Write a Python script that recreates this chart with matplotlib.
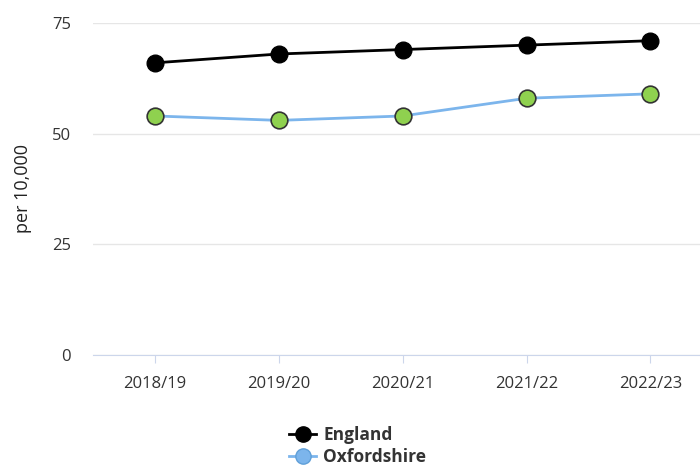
import matplotlib
matplotlib.use('Agg')
import matplotlib.pyplot as plt
from matplotlib.lines import Line2D

years = ['2018/19', '2019/20', '2020/21', '2021/22', '2022/23']
england = [66, 68, 69, 70, 71]
oxfordshire = [54, 53, 54, 58, 59]
yticks = [0, 25, 50, 75]

plt.rcParams['font.family'] = ['Open Sans', 'DejaVu Sans']

fig = plt.figure(figsize=(7, 4.68), dpi=100)
ax = fig.add_axes([93 / 700, 1 - 355 / 468, 1 - 93 / 700, 332 / 468])

x = range(len(years))
ax.plot(x, england, color='black', lw=2, marker='o', ms=12,
        mfc='black', mec='black', zorder=3, clip_on=False)
ax.plot(x, oxfordshire, color='#7cb5ec', lw=2, marker='o', ms=12,
        mfc='#8fd14f', mec='#333333', mew=1.2, zorder=3, clip_on=False)

ax.set_xlim(-0.5, 4.4)
ax.set_ylim(0, 75)
ax.set_yticks(yticks)
ax.set_xticks(list(x))
ax.set_xticklabels(years)
ax.grid(axis='y', color='#e6e6e6', lw=1)
ax.set_axisbelow(True)
for s in ['top', 'right', 'left']:
    ax.spines[s].set_visible(False)
ax.spines['bottom'].set_color('#ccd6eb')
ax.tick_params(axis='y', length=0, pad=16, labelsize=12, labelcolor='#333333')
ax.tick_params(axis='x', length=6, color='#ccd6eb', pad=9, labelsize=12, labelcolor='#333333')
ax.set_ylabel('per 10,000', fontsize=13, color='#222222', labelpad=14)

handles = [
    Line2D([], [], color='black', lw=2, marker='o', ms=11, mfc='black', mec='black'),
    Line2D([], [], color='#7cb5ec', lw=2, marker='o', ms=11, mfc='#7cb5ec', mec='#5f9fd8'),
]
fig.legend(handles, ['England', 'Oxfordshire'], loc='upper left',
           bbox_to_anchor=(280 / 700, 1 - 417 / 468), frameon=False,
           handlelength=1.6, handletextpad=0.4, labelspacing=0.25,
           prop={'size': 12.5, 'weight': 'bold'}, labelcolor='#333333',
           borderpad=0)

fig.savefig('out.png', dpi=100)
